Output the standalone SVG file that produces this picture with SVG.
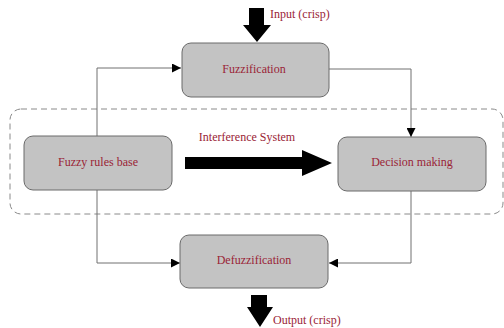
<svg xmlns="http://www.w3.org/2000/svg" width="504" height="328" viewBox="0 0 504 328">
<defs>
<style>
.box{fill:#c3c3c3;stroke:#6a6a6a;stroke-width:1}
.lbl{font-size:12px;fill:#9a2436}
.ln{fill:none;stroke:#707070;stroke-width:1}
.big{fill:#000}
</style>
<marker id="ah" viewBox="0 0 10 10" refX="10" refY="5" markerWidth="9" markerHeight="9" markerUnits="userSpaceOnUse" orient="auto">
<path d="M0,0 L10,5 L0,10 Z" fill="#000"/>
</marker>
</defs>
<rect x="10" y="109" width="493" height="105" rx="11" fill="none" stroke="#8a8a8a" stroke-width="1" stroke-dasharray="6,4"/>
<g id="connectors">
<path class="ln" d="M97,136 V68 H181" marker-end="url(#ah)"/>
<path class="ln" d="M97,190 V263 H180" marker-end="url(#ah)"/>
<path class="ln" d="M329,69 H411 V137" marker-end="url(#ah)"/>
<path class="ln" d="M411,191 V263 H329" marker-end="url(#ah)"/>
<path class="big" d="M185,157 H302 V150 L332,163 L302,176 V169 H185 Z"/>
<path class="big" d="M249,8 H264 V25 H271 L257,42 L243,25 H249 Z"/>
<path class="big" d="M251,295 H267 V307 H273 L260,327 L247,307 H251 Z"/>
</g>
<g font-family="'Liberation Serif', 'Times New Roman', serif">
<g id="input-label"><text class="lbl" x="270" y="18">Input (crisp)</text></g>
<g id="output-label"><text class="lbl" x="273" y="324">Output (crisp)</text></g>
<g id="interference-label"><text class="lbl" x="247" y="141" text-anchor="middle">Interference System</text></g>
<g id="fuzzification">
<rect class="box" x="182" y="43" width="147" height="54" rx="9"/>
<text class="lbl" x="254" y="73" text-anchor="middle">Fuzzification</text>
</g>
<g id="fuzzy-rules-base">
<rect class="box" x="24" y="136" width="148" height="54" rx="9"/>
<text class="lbl" x="98" y="166" text-anchor="middle">Fuzzy rules base</text>
</g>
<g id="decision-making">
<rect class="box" x="338" y="137" width="148" height="54" rx="9"/>
<text class="lbl" x="412" y="166" text-anchor="middle">Decision making</text>
</g>
<g id="defuzzification">
<rect class="box" x="180" y="235" width="148" height="53" rx="9"/>
<text class="lbl" x="254" y="264" text-anchor="middle">Defuzzification</text>
</g>
</g>
</svg>
